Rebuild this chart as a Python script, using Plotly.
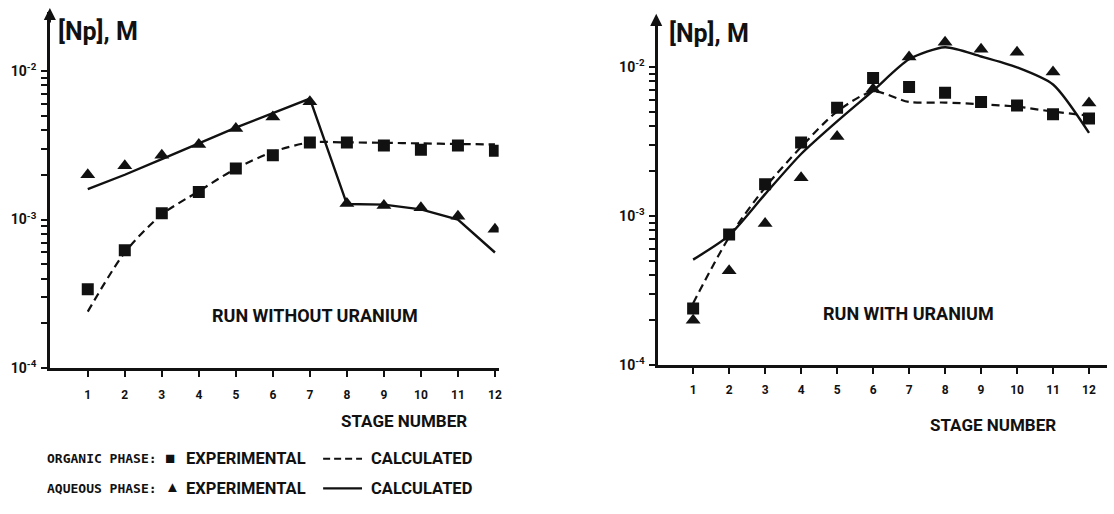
import plotly.graph_objects as go

stages = list(range(1, 13))

# Left panel: run without uranium
left_org_exp = [3.4e-4, 6.2e-4, 1.1e-3, 1.53e-3, 2.2e-3, 2.7e-3, 3.3e-3, 3.3e-3, 3.15e-3, 2.95e-3, 3.15e-3, 2.9e-3]
left_org_calc = [2.4e-4, 6.0e-4, 1.08e-3, 1.55e-3, 2.2e-3, 2.85e-3, 3.3e-3, 3.3e-3, 3.28e-3, 3.25e-3, 3.22e-3, 3.2e-3]
left_aq_exp = [2.0e-3, 2.3e-3, 2.7e-3, 3.2e-3, 4.1e-3, 4.9e-3, 6.2e-3, 1.28e-3, 1.24e-3, 1.2e-3, 1.05e-3, 8.6e-4]
left_aq_calc = [1.6e-3, 2.0e-3, 2.55e-3, 3.25e-3, 4.15e-3, 5.2e-3, 6.5e-3, 1.27e-3, 1.26e-3, 1.17e-3, 1.0e-3, 6.0e-4]

# Right panel: run with uranium
right_org_exp = [2.4e-4, 7.5e-4, 1.63e-3, 3.1e-3, 5.3e-3, 8.4e-3, 7.3e-3, 6.7e-3, 5.8e-3, 5.5e-3, 4.8e-3, 4.5e-3]
right_org_calc = [2.6e-4, 7.2e-4, 1.55e-3, 2.9e-3, 5.0e-3, 6.8e-3, 5.8e-3, 5.75e-3, 5.6e-3, 5.4e-3, 5.0e-3, 4.7e-3]
right_aq_exp = [2.0e-4, 4.3e-4, 8.9e-4, 1.8e-3, 3.4e-3, 7.1e-3, 1.16e-2, 1.46e-2, 1.31e-2, 1.25e-2, 9.2e-3, 5.7e-3]
right_aq_calc = [5.1e-4, 7.4e-4, 1.4e-3, 2.6e-3, 4.3e-3, 6.9e-3, 1.12e-2, 1.35e-2, 1.17e-2, 9.9e-3, 7.6e-3, 3.6e-3]

y_tickvals = [m * 10.0 ** e for e in (-4, -3) for m in range(1, 10)] + [1e-2]
y_ticktext = ["10<sup>-4</sup>"] + [""] * 8 + ["10<sup>-3</sup>"] + [""] * 8 + ["10<sup>-2</sup>"]

W, H = 1114, 514
INK = "#111111"
SANS = "Roboto"
MONO = "DejaVu Sans Mono"

fig = go.Figure()

def add_panel(xa, ya, org_exp, org_calc, aq_exp, aq_calc, org_shape, aq_shape):
    fig.add_trace(go.Scatter(x=stages, y=org_calc, mode="lines", xaxis=xa, yaxis=ya,
                             line=dict(color=INK, width=2.2, dash="8px,5px", shape=org_shape, smoothing=0.8)))
    fig.add_trace(go.Scatter(x=stages, y=aq_calc, mode="lines", xaxis=xa, yaxis=ya,
                             line=dict(color=INK, width=2.4, shape=aq_shape, smoothing=0.7)))
    fig.add_trace(go.Scatter(x=stages, y=org_exp, mode="markers", xaxis=xa, yaxis=ya,
                             marker=dict(symbol="square", size=12, color=INK)))
    fig.add_trace(go.Scatter(x=stages, y=aq_exp, mode="markers", xaxis=xa, yaxis=ya,
                             marker=dict(symbol="triangle-up", size=13, color=INK)))

add_panel("x", "y", left_org_exp, left_org_calc, left_aq_exp, left_aq_calc, "spline", "linear")
add_panel("x2", "y2", right_org_exp, right_org_calc, right_aq_exp, right_aq_calc, "spline", "spline")

def xaxis(domain, rng, anchor, standoff):
    return dict(domain=domain, range=rng, anchor=anchor, showline=True, linecolor=INK, linewidth=2.5,
                ticks="outside", ticklen=6, tickwidth=2, tickcolor=INK, tickvals=stages,
                ticklabelstandoff=standoff,
                tickfont=dict(family=SANS, size=12, color=INK, weight="bold"),
                showgrid=False, zeroline=False, fixedrange=True)

def yaxis(domain, rng, anchor):
    return dict(domain=domain, range=rng, anchor=anchor, type="log", showline=True, linecolor=INK,
                linewidth=2.5, ticks="outside", ticklen=6, tickwidth=2, tickcolor=INK,
                tickvals=y_tickvals, ticktext=y_ticktext, ticklabelstandoff=2,
                tickfont=dict(family=SANS, size=14, color=INK, weight="bold"),
                showgrid=False, zeroline=False, fixedrange=True)

def px(x):
    return x / W

def py(y):
    return 1 - y / H

annotations = []
def label(text, x, y, size=17, family=SANS, xanchor="center", weight="bold"):
    annotations.append(dict(text=text, x=px(x), y=py(y), xref="paper", yref="paper", showarrow=False,
                            xanchor=xanchor, yanchor="middle",
                            font=dict(family=family, size=size, color=INK, weight=weight)))

# axis arrows
for xpos, ytip in ((50, 8), (658, 14)):
    annotations.append(dict(text="", x=px(xpos), y=py(ytip), xref="paper", yref="paper",
                            ax=0, ay=16, showarrow=True, arrowhead=2, arrowsize=1.1,
                            arrowwidth=2.2, arrowcolor=INK))

label("[Np], M", 98, 32, size=25)
label("[Np], M", 711, 34, size=25)
label("RUN WITHOUT URANIUM", 316, 320, size=18)
label("RUN WITH URANIUM", 911, 318, size=18)
label("STAGE NUMBER", 405, 428, size=17)
label("STAGE NUMBER", 996, 432, size=17)

# legend rows
label("ORGANIC PHASE:", 45, 466, size=13, family=MONO, xanchor="left")
label("■", 163, 465, size=17, xanchor="left", weight="normal")
label("EXPERIMENTAL", 184, 466, size=16.5, xanchor="left")
label("CALCULATED", 370, 466, size=16.5, xanchor="left")
label("AQUEOUS PHASE:", 45, 496, size=13, family=MONO, xanchor="left")
label("▲", 163, 495, size=15, xanchor="left", weight="normal")
label("EXPERIMENTAL", 184, 496, size=16.5, xanchor="left")
label("CALCULATED", 370, 496, size=16.5, xanchor="left")

shapes = [
    dict(type="line", xref="paper", yref="paper", x0=px(324), x1=px(363), y0=py(466), y1=py(466),
         line=dict(color=INK, width=2.2, dash="7px,4px")),
    dict(type="line", xref="paper", yref="paper", x0=px(324), x1=px(363), y0=py(496), y1=py(496),
         line=dict(color=INK, width=2.2)),
]

fig.update_layout(
    width=W, height=H, margin=dict(l=0, r=0, t=0, b=0),
    paper_bgcolor="white", plot_bgcolor="white", showlegend=False,
    xaxis=xaxis([px(50), px(500)], [-0.024, 12.1], "y", 8),
    yaxis=yaxis([py(374), py(12)], [-4, -1.603], "x"),
    xaxis2=xaxis([px(660), px(1110)], [0.03, 12.5], "y2", 6),
    yaxis2=yaxis([py(371), py(18)], [-4, -1.672], "x2"),
    annotations=annotations, shapes=shapes,
)

fig.write_html("out.html")
